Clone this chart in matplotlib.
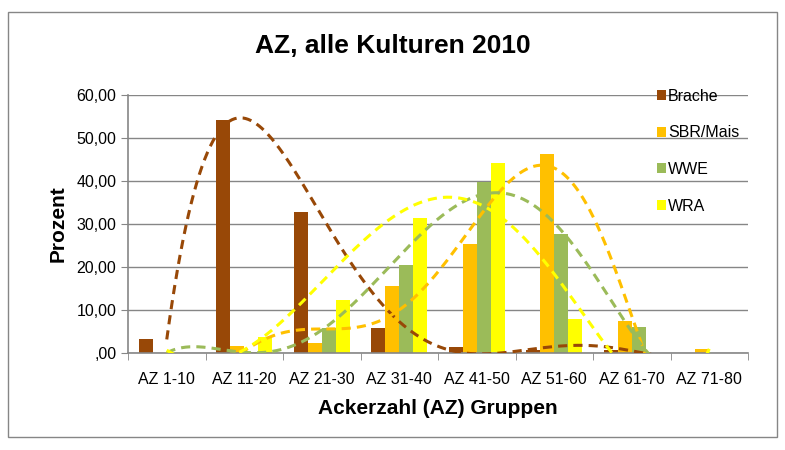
import numpy as np
import matplotlib
matplotlib.use('Agg')
from matplotlib import pyplot as plt
from matplotlib.patches import Rectangle

plt.rcParams['font.family'] = ['Liberation Sans', 'DejaVu Sans']

categories = ['AZ 1-10', 'AZ 11-20', 'AZ 21-30', 'AZ 31-40',
              'AZ 41-50', 'AZ 51-60', 'AZ 61-70', 'AZ 71-80']
brache = [3.2, 54.3, 32.8, 5.8, 1.3, 0.6, 0.8, 0.0]
sbr_mais = [0.0, 1.6, 2.3, 15.5, 25.4, 46.3, 7.5, 0.9]
wwe = [0.0, 0.2, 5.9, 20.4, 39.8, 27.6, 6.1, 0.1]
wra = [0.0, 3.8, 12.3, 31.4, 44.2, 7.9, 0.0, 0.0]

# name, values, colour, order of polynomial trend line
series = [('Brache', brache, '#984807', 6),
          ('SBR/Mais', sbr_mais, '#FFC000', 6),
          ('WWE', wwe, '#9BBB59', 5),
          ('WRA', wra, '#FFFF00', 5)]

fig = plt.figure(figsize=(7.85, 4.5), dpi=100)
fig.patches.append(Rectangle((8 / 785, 13 / 450), 769 / 785, 425 / 450,
                             transform=fig.transFigure, fill=False,
                             edgecolor='#868686', lw=1))
ax = fig.add_axes([128 / 785, (450 - 353) / 450, 620 / 785, 258 / 450])

x = np.arange(1, len(categories) + 1)
w = 0.18
for i, (name, vals, col, order) in enumerate(series):
    ax.bar(x + (i - 1.5) * w, vals, w, color=col, label=name, zorder=2)

# polynomial trend lines like Excel
xs = np.linspace(1, 8, 400)
for name, vals, col, order in series:
    p = np.polyfit(x, vals, order)
    ax.plot(xs, np.polyval(p, xs), color=col, ls=(0, (3, 2)), lw=2.2, zorder=3)

ax.set_xlim(0.5, 8.5)
ax.set_ylim(0, 60)
ax.set_yticks(np.arange(0, 61, 10))
ax.set_yticklabels([',00'] + ['%d,00' % v for v in range(10, 61, 10)])
ax.set_xticks(x)
ax.set_xticklabels(categories)
ax.set_xticks(np.arange(0.5, 9, 1), minor=True)
ax.tick_params(axis='x', which='major', length=0, pad=14, labelsize=11.5)
ax.tick_params(axis='x', which='minor', length=5, color='#868686')
ax.tick_params(axis='y', length=5, color='#868686', labelsize=11.5)
ax.grid(axis='y', color='#868686', lw=1, zorder=0)
for s in ['top', 'right']:
    ax.spines[s].set_visible(False)
for s in ['left', 'bottom']:
    ax.spines[s].set_color('#868686')
    ax.spines[s].set_linewidth(1.2)

ax.set_ylabel('Prozent', fontsize=15, fontweight='bold', labelpad=6)
ax.set_xlabel('Ackerzahl (AZ) Gruppen', fontsize=15, fontweight='bold', labelpad=8)
fig.text(0.5, (450 - 46) / 450, 'AZ, alle Kulturen 2010', ha='center', va='center',
         fontsize=19, fontweight='bold')

ax.legend(loc='upper left', bbox_to_anchor=(0.853, 1.025), frameon=False,
          fontsize=11.5, handlelength=0.6, handleheight=0.6, handletextpad=0.1,
          labelspacing=1.36, borderaxespad=0, borderpad=0)

fig.savefig('out.png', dpi=100)
